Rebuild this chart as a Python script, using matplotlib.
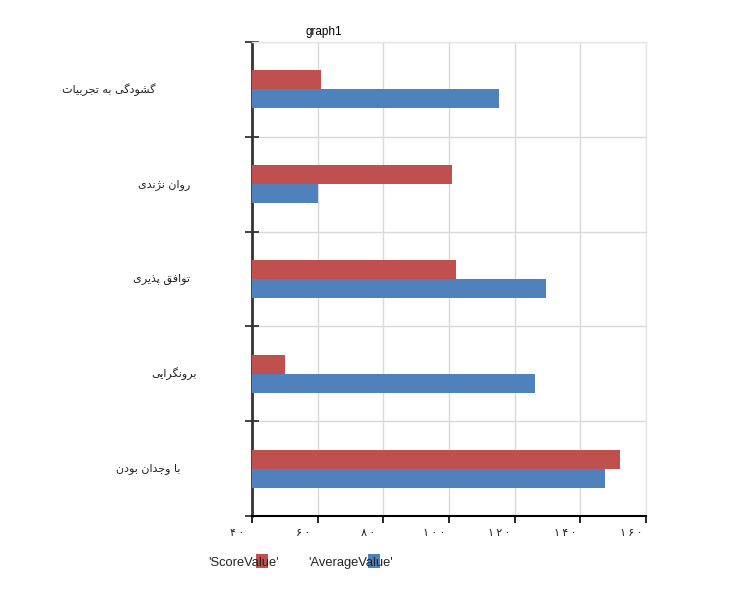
import matplotlib
matplotlib.use("Agg")
import matplotlib.pyplot as plt
from matplotlib.patches import Rectangle
from matplotlib.transforms import ScaledTranslation, blended_transform_factory
import numpy as np

# ---------------- data ----------------
categories = ["گشودگی به تجربیات", "روان نژندی", "توافق پذیری", "برونگرایی", "با وجدان بودن"]
score_values = [61, 101, 102, 50, 152.2]
average_values = [115.3, 60, 129.6, 126.3, 147.5]
series_names = ["'ScoreValue'", "'AverageValue'"]
x_ticks = [40, 60, 80, 100, 120, 140, 160]
title = "graph1"

# ---------------- simple Arabic/Persian shaping ----------------
FORMS = {
    '\u0627': ('\uFE8D', '\uFE8E', None, None),
    '\u0628': ('\uFE8F', '\uFE90', '\uFE91', '\uFE92'),
    '\u062A': ('\uFE95', '\uFE96', '\uFE97', '\uFE98'),
    '\u062C': ('\uFE9D', '\uFE9E', '\uFE9F', '\uFEA0'),
    '\u062F': ('\uFEA9', '\uFEAA', None, None),
    '\u0630': ('\uFEAB', '\uFEAC', None, None),
    '\u0631': ('\uFEAD', '\uFEAE', None, None),
    '\u0634': ('\uFEB5', '\uFEB6', '\uFEB7', '\uFEB8'),
    '\u0641': ('\uFED1', '\uFED2', '\uFED3', '\uFED4'),
    '\u0642': ('\uFED5', '\uFED6', '\uFED7', '\uFED8'),
    '\u0646': ('\uFEE5', '\uFEE6', '\uFEE7', '\uFEE8'),
    '\u0647': ('\uFEE9', '\uFEEA', '\uFEEB', '\uFEEC'),
    '\u0648': ('\uFEED', '\uFEEE', None, None),
    '\u06CC': ('\uFBFC', '\uFBFD', '\uFBFE', '\uFBFF'),
    '\u067E': ('\uFB56', '\uFB57', '\uFB58', '\uFB59'),
    '\u0698': ('\uFB8A', '\uFB8B', None, None),
    '\u06AF': ('\uFB92', '\uFB93', '\uFB94', '\uFB95'),
}


def dual(c):
    return c in FORMS and FORMS[c][2] is not None


def shape(text):
    out = []
    n = len(text)
    for i, c in enumerate(text):
        if c not in FORMS:
            out.append(c)
            continue
        prev_j = i > 0 and dual(text[i - 1])
        next_j = dual(c) and i + 1 < n and text[i + 1] in FORMS
        iso, fin, ini, med = FORMS[c]
        if prev_j and next_j:
            out.append(med)
        elif prev_j:
            out.append(fin)
        elif next_j:
            out.append(ini)
        else:
            out.append(iso)
    return "".join(out)[::-1]


def persian_digits(v):
    return "\u2009".join(chr(0x06F0 + int(d)) for d in str(v))


# ---------------- figure ----------------
plt.rcParams['font.family'] = ['DejaVu Sans']
W, H = 750, 600
fig = plt.figure(figsize=(7.5, 6), dpi=100)
ax = fig.add_axes([252 / W, 1 - 516 / H, (646 - 252) / W, (516 - 42) / H])

red = "#C0504D"
blue = "#4F81BD"
y = np.arange(len(categories))
bh = 0.2
ax.barh(y - bh / 2, [v - 40 for v in score_values], left=40, height=bh, color=red, zorder=3)
ax.barh(y + bh / 2, [v - 40 for v in average_values], left=40, height=bh, color=blue, zorder=3)

ax.set_xlim(40, 160)
ax.set_ylim(len(categories) - 0.5, -0.5)

ax.set_xticks(x_ticks)
ax.set_xticklabels([])
xlab_tr = blended_transform_factory(ax.transData, ax.transAxes) + \
    ScaledTranslation(-15 / 100, -17 / 100, fig.dpi_scale_trans)
for t in x_ticks:
    ax.text(t, 0, persian_digits(t), transform=xlab_tr, ha='center', va='center',
            fontsize=8, color='#222222', clip_on=False)

bounds = np.arange(len(categories) + 1) - 0.5
ax.set_yticks(bounds)
ax.set_yticklabels([])
ax.tick_params(axis='y', direction='inout', length=10, width=1.2, color='#222222')
ax.tick_params(axis='x', direction='out', length=5, width=1.2, color='black')
yt = ax.yaxis.get_major_ticks()
for k in (0, -1):
    yt[k].tick1line.set_color('#aaaaaa')

ax.grid(True, color='#d9d9d9', linewidth=1, zorder=0)
ax.set_axisbelow(True)

ax.spines['left'].set_color('#333333')
ax.spines['left'].set_linewidth(2)
ax.spines['bottom'].set_color('black')
ax.spines['bottom'].set_linewidth(1.5)
ax.spines['top'].set_color('#e6e6e6')
ax.spines['right'].set_color('#e6e6e6')
for s in ('top', 'right'):
    ax.spines[s].set_linewidth(1)

# category labels (placed individually, as in the reference)
label_right_px = [156, 190, 190, 197, 181]
cat_tr = blended_transform_factory(fig.transFigure, ax.transData)
for i, cat in enumerate(categories):
    ax.text(label_right_px[i] / W, i, shape(cat), transform=cat_tr,
            ha='right', va='center', fontsize=8, color='#222222', clip_on=False)

# title
fig.text(324 / W, 1 - 32 / H, title, ha='center', va='center', fontsize=8.5,
         family='Liberation Sans', color='black')

# legend
legend_colors = [red, blue]
text_x = [208, 308]
sq_x = [256, 368]
for name, col, tx, sx in zip(series_names, legend_colors, text_x, sq_x):
    fig.add_artist(Rectangle((sx / W, 1 - 568 / H), 12 / W, 14 / H, transform=fig.transFigure,
                             facecolor=col, edgecolor='none', zorder=1))
    fig.text(tx / W, 1 - 563 / H, name, ha='left', va='center', fontsize=9.3,
             family='Liberation Sans', color='#222222', zorder=3)

fig.savefig("out.png", dpi=100, facecolor='white')
